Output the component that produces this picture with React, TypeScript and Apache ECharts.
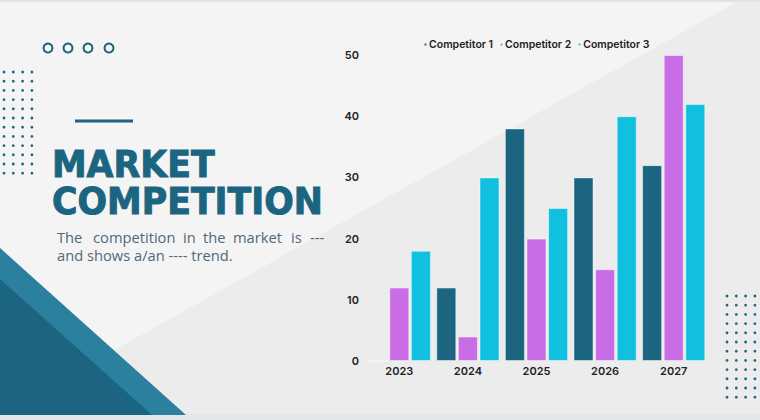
import React, { useEffect, useRef } from "react";
import * as echarts from "echarts";

const categories = ["2023", "2024", "2025", "2026", "2027"];
const competitor1 = [0, 12, 38, 30, 32];
const competitor2 = [12, 4, 20, 15, 50];
const competitor3 = [18, 30, 25, 40, 42];
const seriesNames = ["Competitor 1", "Competitor 2", "Competitor 3"];
const colors = ["#1b6580", "#c96de6", "#10c0de"];

const DARK = "#1b6580";

function dotGrid(x0: number, y0: number, cols: number, rows: number, dx: number, dy: number) {
  const out: any[] = [];
  for (let r = 0; r < rows; r++) {
    for (let c = 0; c < cols; c++) {
      out.push({
        type: "circle",
        silent: true,
        shape: { cx: x0 + c * dx, cy: y0 + r * dy, r: 1.4 },
        style: { fill: DARK },
      });
    }
  }
  return out;
}

export default function App() {
  const ref = useRef<HTMLDivElement>(null);
  useEffect(() => {
    document.body.style.margin = "0";
    const chart = echarts.init(ref.current!, undefined, { renderer: "svg" });
    const line1Words = [
      ["The", 57],
      ["competition", 93],
      ["in", 183],
      ["the", 203],
      ["market", 233],
      ["is", 291],
      ["---", 310],
    ] as [string, number][];
    const subFont = "15px 'Open Sans'";
    const subScale = 0.98;
    const graphics: any[] = [
      { type: "rect", z: -10, silent: true, shape: { x: 0, y: 0, width: 760, height: 420 }, style: { fill: "#f4f4f4" } },
      { type: "polygon", z: -9, silent: true, shape: { points: [[0, 414], [740, 0], [760, 0], [760, 420], [0, 420]] }, style: { fill: "#ececec" } },
      { type: "rect", z: -8, silent: true, shape: { x: 0, y: 0, width: 760, height: 2 }, style: { fill: "#e2e2e2" } },
      { type: "rect", z: -8, silent: true, shape: { x: 0, y: 414, width: 760, height: 6 }, style: { fill: "#e4e7ea" } },
      { type: "polygon", z: -7, silent: true, shape: { points: [[0, 248], [186, 415], [0, 415]] }, style: { fill: "#2b809f" } },
      { type: "polygon", z: -6, silent: true, shape: { points: [[0, 279], [152, 415], [0, 415]] }, style: { fill: "#1b6580" } },
      ...[48, 68, 88, 109].map((cx) => ({
        type: "circle",
        silent: true,
        shape: { cx, cy: 48, r: 4.5 },
        style: { fill: "none", stroke: DARK, lineWidth: 2 },
      })),
      ...dotGrid(4, 72, 4, 12, 9.3, 9.2),
      ...dotGrid(727, 296, 4, 12, 9.3, 9.2),
      { type: "rect", silent: true, shape: { x: 75, y: 119.5, width: 58, height: 3 }, style: { fill: DARK } },
      {
        type: "text",
        silent: true,
        x: 52,
        y: 146,
        scaleX: 0.94,
        style: { text: "MARKET", fill: DARK, stroke: DARK, lineWidth: 1, font: "bold 37px 'DejaVu Sans'" },
      },
      {
        type: "text",
        silent: true,
        x: 52,
        y: 183,
        scaleX: 0.94,
        style: { text: "COMPETITION", fill: DARK, stroke: DARK, lineWidth: 1, font: "bold 37px 'DejaVu Sans'" },
      },
      ...line1Words.map(([w, x]) => ({
        type: "text",
        silent: true,
        x,
        y: 229,
        scaleX: subScale,
        style: { text: w, fill: "#50697a", font: subFont },
      })),
      {
        type: "text",
        silent: true,
        x: 57,
        y: 247,
        scaleX: subScale,
        style: { text: "and shows a/an ---- trend.", fill: "#50697a", font: subFont },
      },
    ];
    const mk = (name: string, data: number[], color: string) => ({
      name,
      type: "bar",
      data,
      barWidth: 20,
      barGap: "8%",
      itemStyle: { color, borderColor: "rgba(255,255,255,0.45)", borderWidth: 1 },
    });
    chart.setOption({
      animation: false,
      graphic: graphics,
      legend: {
        top: 39,
        left: 423,
        icon: "circle",
        itemWidth: 3,
        itemHeight: 3,
        itemGap: 6,
        padding: 0,
        textStyle: { fontFamily: "Inter", fontWeight: 600, fontSize: 10.5, color: "#222", padding: [0, 0, 0, -3] },
        data: seriesNames,
      },
      color: colors,
      grid: { left: 365, right: 52, top: 55, bottom: 59 },
      xAxis: {
        type: "category",
        data: categories,
        axisLine: { show: false },
        axisTick: { show: false },
        axisLabel: { margin: 4, fontFamily: "Inter", fontWeight: 600, fontSize: 11, color: "#222" },
      },
      yAxis: {
        type: "value",
        min: 0,
        max: 50,
        interval: 10,
        splitLine: { show: false },
        axisLine: { show: false },
        axisTick: { show: false },
        axisLabel: { margin: 6, fontFamily: "Inter", fontWeight: 600, fontSize: 11, color: "#222" },
      },
      series: [
        mk(seriesNames[0], competitor1, colors[0]),
        mk(seriesNames[1], competitor2, colors[1]),
        mk(seriesNames[2], competitor3, colors[2]),
      ],
    });
    return () => chart.dispose();
  }, []);
  return <div ref={ref} style={{ position: "absolute", left: 0, top: 0, width: 760, height: 420 }} />;
}
